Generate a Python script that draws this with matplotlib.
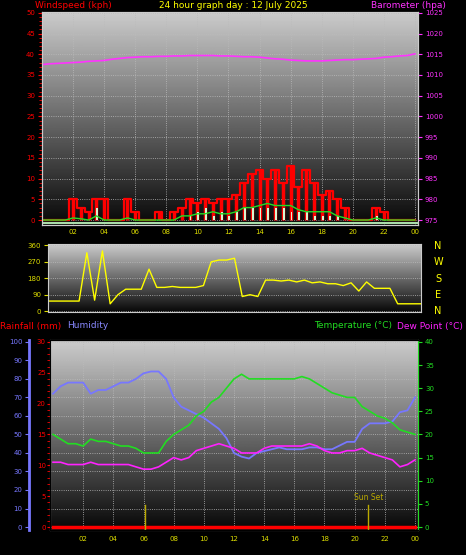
import matplotlib
matplotlib.use("Agg")
import matplotlib.pyplot as plt
import numpy as np

# half-hourly samples, 0..24 h
hours = np.arange(0, 24.5, 0.5)

gust = [0, 0, 0, 0, 5, 3, 2, 5, 5, 0, 0, 5, 2, 0, 0, 2, 0, 2, 3, 5, 4, 5, 4, 5, 5,
        6, 9, 11, 12, 10, 12, 9, 13, 8, 12, 9, 6, 7, 5, 3, 0, 0, 0, 3, 2, 0, 0, 0, 0]
wind_avg = [0, 0, 0, 0, 0.5, 0.3, 0, 1, 0, 0, 0, 0.5, 0, 0, 0, 0, 0, 0, 1, 1, 1.5, 1.5, 2, 1.5, 1.5,
            2, 3, 3, 3.5, 4, 3.5, 3.5, 3.5, 2.5, 2, 2, 2, 2, 1, 0.5, 0, 0, 0, 0.5, 0, 0, 0, 0, 0]
wind_spd = [0, 0, 0, 0, 0, 0, 0, 3, 0, 0, 0, 0, 0, 0, 0, 0, 0, 0, 0, 1, 2, 3, 1, 2, 1,
            2, 3, 3, 3, 3, 3, 3, 2, 2, 2, 1, 1, 1, 1, 0, 0, 0, 0, 1, 0, 0, 0, 0, 0]
baro = [1012.5, 1012.7, 1012.8, 1012.9, 1013.0, 1013.1, 1013.3, 1013.4, 1013.5, 1013.8, 1014.0,
        1014.2, 1014.3, 1014.4, 1014.4, 1014.5, 1014.5, 1014.6, 1014.6, 1014.7, 1014.7, 1014.7,
        1014.7, 1014.6, 1014.6, 1014.5, 1014.4, 1014.4, 1014.3, 1014.1, 1013.9, 1013.8, 1013.6,
        1013.5, 1013.4, 1013.4, 1013.4, 1013.5, 1013.6, 1013.7, 1013.7, 1013.8, 1013.9, 1014.0,
        1014.3, 1014.4, 1014.6, 1014.7, 1015.1]
wind_dir = [55, 55, 55, 55, 55, 320, 60, 330, 40, 90, 120, 120, 120, 230, 130, 130, 135, 130, 130,
            130, 140, 270, 280, 280, 290, 80, 90, 80, 170, 170, 165, 170, 160, 170, 155, 160, 150,
            150, 140, 155, 110, 160, 125, 125, 125, 40, 40, 40, 40]
humidity = [72, 76, 78, 78, 78, 72, 74, 74, 76, 78, 78, 80, 83, 84, 84, 80, 70, 65, 63, 61, 59, 56,
            53, 48, 40, 38, 37, 40, 41, 42, 43, 42, 42, 42, 43, 43, 42, 42, 44, 46, 46, 53, 56, 56,
            56, 57, 62, 63, 70]
temperature = [20, 19, 18, 18, 17.5, 19, 18.5, 18.5, 18, 17.5, 17.5, 17, 16, 16, 16, 18.5, 20, 21,
               22, 24, 25, 27, 28, 30, 32, 33, 32, 32, 32, 32, 32, 32, 32, 32.5, 32, 31, 30, 29,
               28.5, 28, 28, 26, 25, 24, 23.5, 22.5, 21, 20.5, 20]
dew_point = [14, 14, 13.5, 13.5, 13.5, 14, 13.5, 13.5, 13.5, 13.5, 13.5, 13, 12.5, 12.5, 13, 14,
             15, 14.5, 15, 16.5, 17, 17.5, 18, 17.5, 17, 16, 16, 16, 17, 17.5, 17.5, 17.5, 17.5,
             17.5, 18, 17.5, 16.5, 16, 16, 16.5, 16.5, 17, 16, 15.5, 15, 14.5, 13, 13.5, 14.5]
rainfall = [0] * len(hours)
sunrise, sunset = 6.1, 20.9

hour_ticks = list(range(2, 25, 2))
hour_labels = ["%02d" % (h % 24) for h in hour_ticks]

fig = plt.figure(figsize=(4.66, 5.55), dpi=100, facecolor="black")
W, H = 466, 555
fs = 6.5
ts = 5


def add_ax(x0, y0, x1, y1):
    return fig.add_axes([x0 / W, 1 - y1 / H, (x1 - x0) / W, (y1 - y0) / H])


def background(ax):
    grad = np.linspace(0.8, 0.03, 256).reshape(-1, 1)
    ax.imshow(grad, cmap="gray", vmin=0, vmax=1, aspect="auto",
              extent=[0, 1, 0, 1], transform=ax.transAxes, zorder=0)
    ax.set_facecolor("black")
    for s in ax.spines.values():
        s.set_color("#cccccc")


def style_ticks(ax, color, side="left"):
    ax.tick_params(axis="y", colors=color, labelsize=ts, length=3, pad=2,
                   labelleft=(side == "left"), labelright=(side == "right"),
                   left=(side == "left"), right=(side == "right"))


# ---------- top: wind + barometer ----------
ax1 = add_ax(42, 12, 418, 225)
background(ax1)
ax1.set_xlim(0, 24.2)
ax1.set_ylim(-1.2, 50.2)
ax1.vlines(hours, 0, gust, color="red", lw=2.5, zorder=3)
ax1.step(hours, gust, where="mid", color="red", lw=1.6, zorder=3)
ax1.bar(hours, wind_spd, width=0.12, align="edge", color="#d8f5d0", zorder=4)
ax1.plot(hours, wind_avg, color="#22dd22", lw=1, zorder=5)
ax1.axhline(-0.6, color="#aaddaa", lw=1.5, zorder=5)
ax1.set_yticks(range(0, 51, 5))
ax1.set_yticks(np.arange(0, 51, 1), minor=True)
style_ticks(ax1, "red")
ax1.tick_params(axis="y", which="minor", colors="red", length=2)
ax1.set_xticks(hour_ticks)
ax1.set_xticklabels(hour_labels)
ax1.tick_params(axis="x", colors="#dddd00", labelsize=ts, length=0, pad=3)
ax1.grid(True, color="#bbbbbb", ls=":", lw=0.6, zorder=1)
ax1b = ax1.twinx()
ax1b.set_ylim(975 - 1.2, 1025.2)
ax1b.plot(hours, baro, color="#ff33ff", lw=1.2)
ax1b.set_yticks(range(975, 1026, 5))
style_ticks(ax1b, "#ff33ff", "right")
for s in ax1b.spines.values():
    s.set_color("#cccccc")
fig.text(35 / W, 1 - 5 / H, "Windspeed (kph)", color="red", fontsize=fs, va="center")
fig.text(233 / W, 1 - 5 / H, "24 hour graph day : 12 July 2025", color="yellow",
         fontsize=fs, va="center", ha="center")
fig.text(446 / W, 1 - 5 / H, "Barometer (hpa)", color="#ff33ff", fontsize=fs,
         va="center", ha="right")

# ---------- middle: wind direction ----------
ax2 = add_ax(48, 244, 421, 312)
background(ax2)
ax2.set_xlim(0, 24)
ax2.set_ylim(-5, 368)
ax2.plot(hours, wind_dir, color="yellow", lw=1)
ax2.set_yticks(range(0, 361, 90))
style_ticks(ax2, "#dddd00")
ax2.set_xticks(hour_ticks)
ax2.tick_params(axis="x", length=0, labelbottom=False)
ax2.grid(True, axis="y", color="#bbbbbb", ls=":", lw=0.6)
for lab, y in zip("NWSEN", [246, 262, 279, 295, 311]):
    fig.text(438 / W, 1 - y / H, lab, color="yellow", fontsize=7, ha="center", va="center")

# ---------- bottom: temperature, humidity, rain ----------
ax3 = add_ax(50, 340, 418, 530)
background(ax3)
ax3.set_xlim(-0.2, 24.2)
ax3.set_ylim(-1.6, 101)
ax3.plot(hours, humidity, color="#7777ff", lw=1.3, zorder=3)
ax3.set_yticks(range(0, 101, 10))
ax3.spines["left"].set_position(("outward", 15))
ax3.spines["left"].set_color("#7777ff")
ax3.spines["left"].set_linewidth(2)
style_ticks(ax3, "#7777ff")
ax3.set_xticks(hour_ticks)
ax3.set_xticklabels(hour_labels)
ax3.tick_params(axis="x", colors="#dddd00", labelsize=ts, length=0, pad=4)
ax3.grid(True, color="#bbbbbb", ls=":", lw=0.6, zorder=1)

ax3r = ax3.twinx()
ax3r.set_ylim(-30 * 0.016, 30.3)
ax3r.plot(hours, rainfall, color="red", lw=2.5, zorder=3)
ax3r.set_yticks(range(0, 31, 5))
ax3r.set_yticks(range(0, 31, 1), minor=True)
ax3r.tick_params(axis="y", which="both", colors="red", labelsize=ts, left=True, right=False,
                 labelleft=True, labelright=False, length=2, pad=1)
ax3r.spines["left"].set_color("#cccccc")
ax3r.spines["right"].set_visible(False)

ax3t = ax3.twinx()
ax3t.set_ylim(-40 * 0.016, 40.4)
ax3t.plot(hours, temperature, color="#22dd22", lw=1.2)
ax3t.plot(hours, dew_point, color="#ff22ff", lw=1.2)
ax3t.set_yticks(range(0, 41, 5))
style_ticks(ax3t, "#22dd22", "right")
ax3t.spines["right"].set_color("#22dd22")
ax3t.axvline(sunrise, ymax=0.13, color="#bbaa00", lw=1)
ax3t.axvline(sunset, ymax=0.13, color="#bbaa00", lw=1)
ax3t.text(sunset, 5.5, "Sun Set", color="#bbaa00", fontsize=5.5, ha="center", va="bottom")

fig.text(0, 1 - 326 / H, "Rainfall (mm)", color="red", fontsize=fs, va="center")
fig.text(67 / W, 1 - 326 / H, "Humidity", color="#8888ff", fontsize=fs, va="center")
fig.text(392 / W, 1 - 326 / H, "Temperature (\u00b0C)", color="#22dd22", fontsize=fs,
         va="center", ha="right")
fig.text(463 / W, 1 - 326 / H, "Dew Point (\u00b0C)", color="#ff22ff", fontsize=fs,
         va="center", ha="right")

fig.savefig("out.png", dpi=100, facecolor="black")
